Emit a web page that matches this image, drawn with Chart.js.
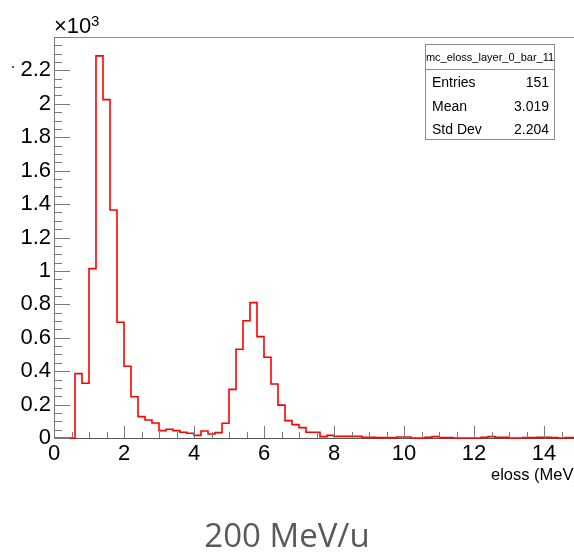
<!DOCTYPE html>
<html>
<head>
<meta charset="utf-8">
<script src="https://cdn.jsdelivr.net/npm/chart.js@4/dist/chart.umd.min.js"></script>
<style>
  html, body { margin: 0; padding: 0; background: #fff; overflow: hidden; width: 574px; height: 558px; }
  canvas { display: block; }
</style>
</head>
<body>
<canvas id="histo" width="590" height="558"></canvas>
<script>
// histogram mc_eloss_layer_0_bar_11, 0.2 MeV bins from 0 to 15
const binLow = 0;
const binHigh = 15;
const binWidth = 0.2;
const counts = [
  0, 0, 0, 385, 328, 1014, 2287, 2025, 1365, 693,
  429, 247, 128, 108, 90, 44, 52, 44, 34, 28,
  16, 42, 24, 32, 88, 291, 531, 702, 810, 607,
  483, 323, 197, 104, 80, 62, 34, 34, 8, 16,
  10, 10, 10, 10, 4, 4, 2, 2, 2, 6,
  6, 0, 0, 4, 8, 2, 2, 0, 0, 0,
  0, 4, 8, 4, 4, 0, 0, 2, 2, 4,
  4, 2, 0, 2, 2
];
const xTickLabels = [0, 2, 4, 6, 8, 10, 12, 14];
const statsTitle = "mc_eloss_layer_0_bar_11";
const statsRows = [["Entries", "151"], ["Mean", "3.019"], ["Std Dev", "2.204"]];
const xTitle = "eloss (MeV)";
const caption = "200 MeV/u";

const rootFont = "'Liberation Sans', Arial, sans-serif";

const points = counts.map((c, i) => ({ x: binLow + i * binWidth, y: c }));
points.push({ x: binHigh, y: counts[counts.length - 1] });

const rootDecor = {
  id: "rootDecor",
  afterDraw(chart) {
    const { ctx, chartArea: a, scales: { x, y } } = chart;
    ctx.save();

    // frame top / right
    ctx.strokeStyle = "#8c8c8c";
    ctx.lineWidth = 1;
    ctx.beginPath();
    ctx.moveTo(a.left, a.top + 0.5);
    ctx.lineTo(a.right, a.top + 0.5);
    ctx.lineTo(a.right, a.bottom);
    ctx.stroke();

    // inward ticks
    ctx.strokeStyle = "#7a7a7a";
    ctx.beginPath();
    for (let k = 0; k <= 48; k++) {
      const py = Math.round(y.getPixelForValue(k * 50)) + 0.5;
      const len = k % 4 === 0 ? 16 : 8;
      ctx.moveTo(a.left, py);
      ctx.lineTo(a.left + len, py);
    }
    for (let k = 0; k <= 30; k++) {
      const px = Math.round(x.getPixelForValue(k * 0.5)) + 0.5;
      const len = k % 4 === 0 ? 12 : 6;
      ctx.moveTo(px, a.bottom);
      ctx.lineTo(px, a.bottom - len);
    }
    ctx.stroke();

    // exponent
    ctx.fillStyle = "#000";
    ctx.textBaseline = "alphabetic";
    ctx.textAlign = "left";
    ctx.font = "22px " + rootFont;
    ctx.fillText("\u00d710", a.left, 33);
    ctx.font = "15px " + rootFont;
    ctx.fillText("3", a.left + 37, 26);

    // stray mark of the cut y title
    ctx.fillStyle = "#555";
    ctx.fillRect(12, 66, 2, 2);

    // x title
    ctx.fillStyle = "#000";
    ctx.textAlign = "right";
    ctx.font = "16.5px " + rootFont;
    ctx.fillText(xTitle, a.right, 480);

    // stats box
    const bx = 425.5, by = 44.5, bw = 129, bh = 95;
    ctx.fillStyle = "#fff";
    ctx.fillRect(bx, by, bw, bh);
    ctx.strokeStyle = "#8c8c8c";
    ctx.strokeRect(bx, by, bw, bh);
    ctx.beginPath();
    ctx.moveTo(bx, 69.5);
    ctx.lineTo(bx + bw, 69.5);
    ctx.stroke();
    ctx.fillStyle = "#000";
    ctx.textBaseline = "middle";
    ctx.textAlign = "center";
    ctx.font = "11px " + rootFont;
    ctx.fillText(statsTitle, bx + bw / 2, 57.5);
    ctx.font = "14px " + rootFont;
    statsRows.forEach((r, i) => {
      const ry = 83.5 + i * 23.5;
      ctx.textAlign = "left";
      ctx.fillText(r[0], 432, ry);
      ctx.textAlign = "right";
      ctx.fillText(r[1], 549, ry);
    });

    // caption under the plot
    ctx.fillStyle = "#595959";
    ctx.textAlign = "center";
    ctx.textBaseline = "alphabetic";
    ctx.font = "33px 'Open Sans', sans-serif";
    ctx.fillText(caption, 287, 547);

    ctx.restore();
  }
};

new Chart(document.getElementById("histo"), {
  type: "line",
  data: {
    datasets: [{
      data: points,
      stepped: "before",
      borderColor: "#ff0000",
      borderWidth: 1.6,
      pointRadius: 0,
      fill: false,
      clip: false
    }]
  },
  options: {
    responsive: false,
    animation: false,
    layout: { padding: { top: 37, right: 11, left: 0, bottom: 0 } },
    plugins: { legend: { display: false }, tooltip: { enabled: false } },
    scales: {
      x: {
        type: "linear",
        min: binLow,
        max: binHigh,
        grid: { display: false, drawTicks: false },
        border: { color: "#555", width: 1 },
        afterBuildTicks: s => { s.ticks = xTickLabels.map(v => ({ value: v })); },
        ticks: {
          color: "#000",
          font: { family: rootFont, size: 22 },
          padding: 3,
          maxRotation: 0,
          autoSkip: false
        },
        afterFit: s => { s.height = 120; }
      },
      y: {
        min: 0,
        max: 2400,
        grid: { display: false, drawTicks: false },
        border: { color: "#7a7a7a", width: 1 },
        ticks: {
          stepSize: 200,
          color: "#000",
          font: { family: rootFont, size: 22 },
          padding: 3,
          autoSkip: false,
          callback: v => v >= 2400 ? "" : String(Number((v / 1000).toFixed(1)))
        },
        afterFit: s => { s.width = 54; }
      }
    }
  },
  plugins: [rootDecor]
});
</script>
</body>
</html>
